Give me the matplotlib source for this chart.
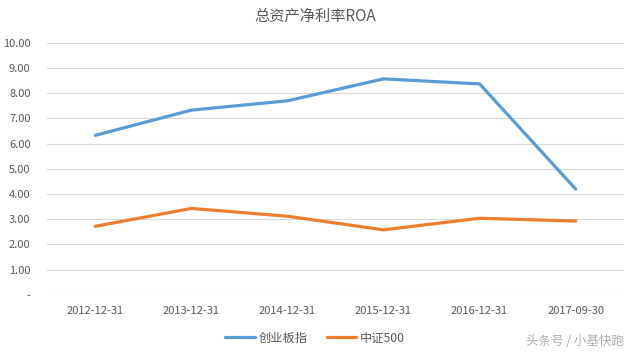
import matplotlib.pyplot as plt

plt.rcParams['font.family'] = ['Noto Sans CJK SC', 'DejaVu Sans']

dates = ['2012-12-31', '2013-12-31', '2014-12-31', '2015-12-31', '2016-12-31', '2017-09-30']
chuangye = [6.33, 7.33, 7.70, 8.57, 8.37, 4.20]
zz500 = [2.72, 3.43, 3.12, 2.58, 3.04, 2.93]
yticks = [0, 1, 2, 3, 4, 5, 6, 7, 8, 9, 10]

txt = '#595959'
fig = plt.figure(figsize=(6.3, 3.54), dpi=100)
ax = fig.add_axes([0.075, 0.167, 0.915, 0.712])

x = list(range(len(dates)))
ax.plot(x, chuangye, color='#5B9BD5', lw=2.3, label='创业板指', solid_capstyle='round')
ax.plot(x, zz500, color='#ED7D31', lw=2.3, label='中证500', solid_capstyle='round')

ax.set_xlim(-0.5, len(dates) - 0.5)
ax.set_ylim(0, 10)
ax.set_yticks(yticks)
ax.set_yticklabels(['-' if v == 0 else f'{v:.2f}' for v in yticks])
ax.set_xticks(x)
ax.set_xticklabels(dates)
ax.tick_params(length=0, labelsize=8, colors=txt)
ax.tick_params(axis='y', pad=12)
ax.tick_params(axis='x', pad=8)
ax.grid(axis='y', color='#D9D9D9', lw=0.8)
ax.set_axisbelow(True)
for s in ax.spines.values():
    s.set_visible(False)

fig.text(0.5, 0.953, '总资产净利率ROA', ha='center', va='center', fontsize=11, color=txt)
fig.legend(loc='center', bbox_to_anchor=(0.5, 0.045), ncol=2, frameon=False,
           fontsize=8.8, labelcolor=txt, handlelength=2.4, columnspacing=1.6, handletextpad=0.3)
fig.text(0.99, 0.035, '头条号 / 小基快跑', ha='right', va='center', fontsize=9, color='#B0B0B0')

fig.savefig('out.png', dpi=100)
